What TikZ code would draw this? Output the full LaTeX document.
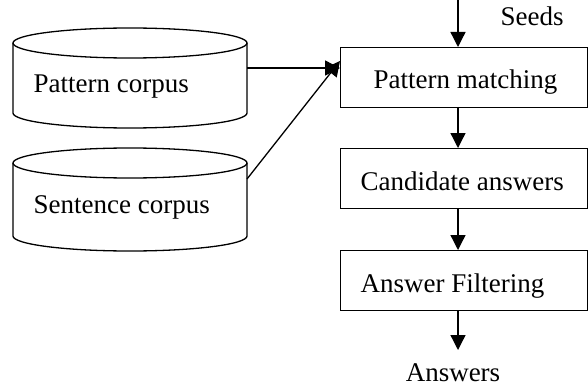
\documentclass[tikz,border=0pt]{standalone}
\usepackage{fontspec}
\setmainfont{Liberation Serif}
\usetikzlibrary{arrows.meta}
\begin{document}
\begin{tikzpicture}[x=0.5pt,y=-0.5pt,
  line width=0.65pt,
  lbl/.style={font=\fontsize{13.5}{16}\selectfont, inner sep=0pt},
  procbox/.style={draw, minimum width=123.5pt, minimum height=30pt, inner sep=0pt, anchor=north west},
  arr/.style={-{Triangle[length=7.5pt,width=7.5pt]}}]
\useasboundingbox (0,0) rectangle (588,385);
% cylinders
\foreach \t/\b in {43/113, 163/236}{
  \draw (130,\t) ellipse [x radius=117, y radius=15];
  \draw (13,\t) -- (13,\b) arc [start angle=180, end angle=0, x radius=117, y radius=15] -- (247,\t);
}
\node[lbl, anchor=base west] (pc) at (33,92) {Pattern corpus};
\node[lbl, anchor=base west] (sc) at (33,213) {Sentence corpus};
\coordinate (pcE) at (247,68);
\coordinate (scE) at (247,179);
% boxes
\node[procbox] (b1) at (340,47) {};
\node[procbox] (b2) at (340,148) {};
\node[procbox] (b3) at (340,250) {};
\node[lbl, anchor=base west] (t1) at (373,89) {Pattern matching};
\node[lbl, anchor=base west] (t2) at (360,190) {Candidate answers};
\node[lbl, anchor=base west] (t3) at (360,292) {Answer Filtering};
\node[lbl, anchor=base west] (seeds) at (500,26) {Seeds};
\node[lbl, anchor=base] (ans) at (453,381) {Answers};
% connectors
\coordinate (top) at (458,0);
\coordinate (b1t) at (458,47);
\coordinate (b1b) at (458,107);
\coordinate (b2t) at (458,148);
\coordinate (b2b) at (458,208);
\coordinate (b3t) at (458,250);
\coordinate (b3b) at (458,310);
\coordinate (ansT) at (458,350);
\coordinate (inA) at (340,68);
\coordinate (inB) at (340,61);
\draw[arr] (top) -- (b1t);
\draw[arr] (b1b) -- (b2t);
\draw[arr] (b2b) -- (b3t);
\draw[arr] (b3b) -- (ansT);
\draw[arr] (pcE) -- (inA);
\draw[arr] (scE) -- (inB);
\end{tikzpicture}
\end{document}
